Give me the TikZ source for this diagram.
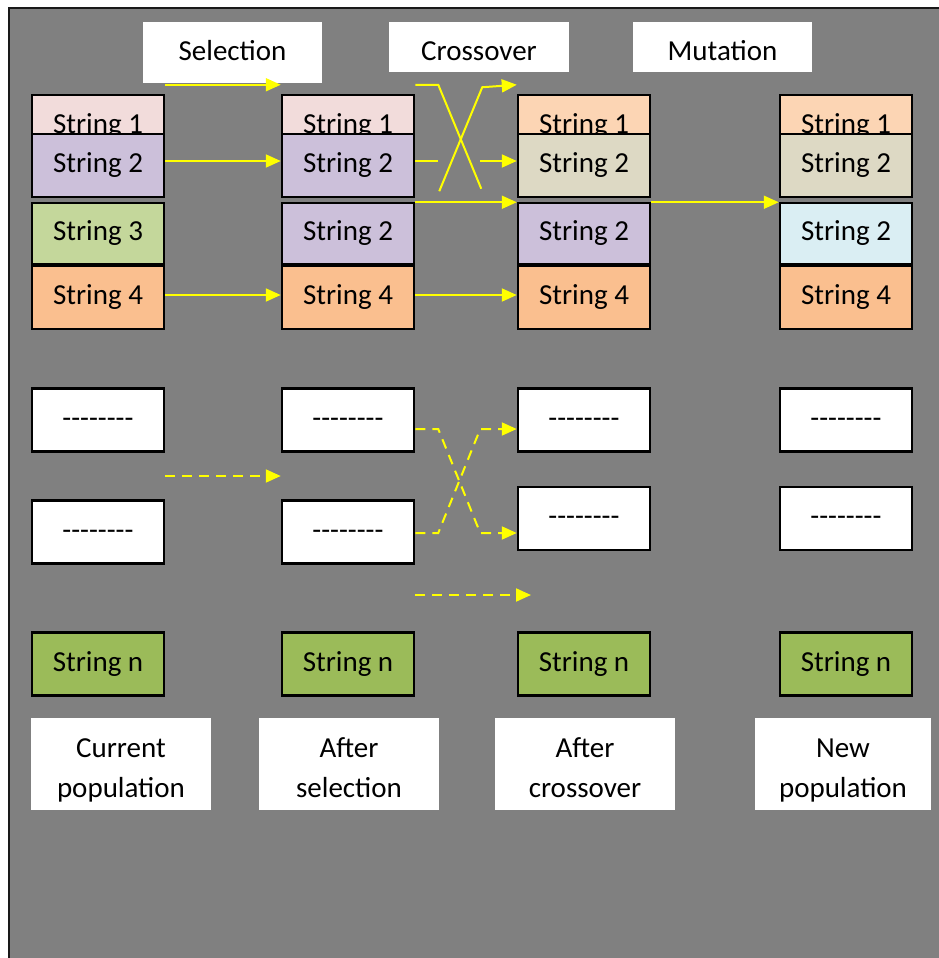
\documentclass[tikz,border=0pt]{standalone}
\usepackage{fontspec}
\setmainfont{Carlito}
\usetikzlibrary{arrows.meta,calc}

\definecolor{panel}{HTML}{808080}
\definecolor{rose}{HTML}{F2DCDB}
\definecolor{lilac}{HTML}{CCC0DA}
\definecolor{sage}{HTML}{C4D79B}
\definecolor{apricot}{HTML}{FABF8F}
\definecolor{peach}{HTML}{FCD5B4}
\definecolor{khaki}{HTML}{DDD9C4}
\definecolor{ice}{HTML}{DAEEF3}
\definecolor{olive}{HTML}{9BBB59}
\definecolor{flowyellow}{HTML}{FFFF00}

% a row of separate hyphens (kerns keep them from merging into dashes)
\newcommand\hyphrow{-\kern0pt-\kern0pt-\kern0pt-\kern0pt-\kern0pt-\kern0pt-\kern0pt-}
% two-line caption with fixed line positions
\newcommand\twolines[2]{\rule{0pt}{33pt}#1\\#2\rule[-7pt]{0pt}{7pt}}

\begin{document}
\begin{tikzpicture}[x=1pt,y=-1pt,
  cell/.style={draw=black, line width=2.5pt, minimum width=132pt, minimum height=63pt,
    inner sep=0pt, text height=20pt, text depth=6pt, font=\fontsize{29}{35}\selectfont},
  lowcell/.style={cell, minimum height=61pt},
  head/.style={fill=white, minimum width=179pt, inner sep=0pt, font=\fontsize{29}{35}\selectfont},
  caption/.style={fill=white, minimum width=180pt, minimum height=92pt, inner sep=0pt,
    align=center, font=\fontsize{29}{40}\selectfont},
  link/.style={draw=flowyellow, line width=2pt},
  flow/.style={link, -{Triangle[length=15pt,width=13pt]}},
  dsh/.style={dash pattern=on 10pt off 7pt}
]
\useasboundingbox (0,0) rectangle (939,958);
\fill[white] (0,0) rectangle (939,958);
\fill[panel] (9,8) rectangle (939,958);
\draw[line width=2.5pt, black!90] (9,958) -- (9,8) -- (939,8);

% step headings
\node[head, minimum height=61pt, text height=21pt, text depth=6pt] (hsel) at (232.5,52.5) {Selection};
\node[head, minimum width=180pt, minimum height=50pt, text height=26pt, text depth=0pt] (hcross) at (479,47) {Crossover};
\node[head, minimum height=50pt, text height=26pt, text depth=0pt] (hmut) at (722.5,47) {Mutation};

% current population
\node[cell, fill=rose]    (c1s1) at (98,126.5) {String 1};
\node[cell, fill=lilac]   (c1s2) at (98,165.5) {String 2};
\node[lowcell, fill=sage] (c1s3) at (98,233.5) {String 3};
\node[cell, fill=apricot] (c1s4) at (98,297.5) {String 4};
\node[cell, fill=white]   (c1d1) at (98,420) {\hyphrow};
\node[cell, fill=white]   (c1d2) at (98,532) {\hyphrow};
\node[cell, fill=olive]   (c1sn) at (98,664) {String n};

% after selection
\node[cell, fill=rose]     (c2s1) at (348,126.5) {String 1};
\node[cell, fill=lilac]    (c2s2) at (348,165.5) {String 2};
\node[lowcell, fill=lilac] (c2s3) at (348,233.5) {String 2};
\node[cell, fill=apricot]  (c2s4) at (348,297.5) {String 4};
\node[cell, fill=white]    (c2d1) at (348,420) {\hyphrow};
\node[cell, fill=white]    (c2d2) at (348,532) {\hyphrow};
\node[cell, fill=olive]    (c2sn) at (348,664) {String n};

% after crossover
\node[cell, fill=peach]    (c3s1) at (584,126.5) {String 1};
\node[cell, fill=khaki]    (c3s2) at (584,165.5) {String 2};
\node[lowcell, fill=lilac] (c3s3) at (584,233.5) {String 2};
\node[cell, fill=apricot]  (c3s4) at (584,297.5) {String 4};
\node[cell, fill=white]    (c3d1) at (584,420) {\hyphrow};
\node[cell, fill=white]    (c3d2) at (584,518.5) {\hyphrow};
\node[cell, fill=olive]    (c3sn) at (584,664) {String n};

% new population
\node[cell, fill=peach]   (c4s1) at (846,126.5) {String 1};
\node[cell, fill=khaki]   (c4s2) at (846,165.5) {String 2};
\node[lowcell, fill=ice]  (c4s3) at (846,233.5) {String 2};
\node[cell, fill=apricot] (c4s4) at (846,297.5) {String 4};
\node[cell, fill=white]   (c4d1) at (846,420) {\hyphrow};
\node[cell, fill=white]   (c4d2) at (846,518.5) {\hyphrow};
\node[cell, fill=olive]   (c4sn) at (846,664) {String n};

% column captions
\node[caption] (cap1) at (121,764) {\twolines{Current}{population}};
\node[caption] (cap2) at (349,764) {\twolines{After}{selection}};
\node[caption] (cap3) at (585,764) {\twolines{After}{crossover}};
\node[caption, minimum width=176pt] (cap4) at (843,764) {\twolines{New}{population}};

% selection
\draw[flow] ([yshift=9pt]c1s1.north east) -- ([yshift=9pt]c2s1.north west);
\draw[flow] ([yshift=4.5pt]c1s2.east) -- ([yshift=4.5pt]c2s2.west);
\draw[flow] ([yshift=2.5pt]c1s4.east) -- ([yshift=2.5pt]c2s4.west);
\draw[flow, dsh] ($(c1d1.east)!.5!(c1d2.east)$) -- ($(c2d1.west)!.5!(c2d2.west)$);

% crossover
\draw[link] ([yshift=9pt]c2s1.north east) -- ++(23,0) -- ++(43,104);
\draw[flow] ([xshift=24pt,yshift=7pt]c2s2.south east) -- ++(43,-104) -- ([yshift=9pt]c3s1.north west);
\draw[link] ([yshift=4.5pt]c2s2.east) -- ++(23,0);
\draw[flow] ([xshift=-37pt,yshift=4.5pt]c3s2.west) -- ([yshift=4.5pt]c3s2.west);
\draw[flow] ([yshift=-4pt]c2s2.south east) -- ([yshift=-4pt]c3s2.south west);
\draw[flow] ([yshift=2.5pt]c2s4.east) -- ([yshift=2.5pt]c3s4.west);
\draw[flow, dsh] ([yshift=-9pt]c2d1.east) -- ++(23,0) -- ++(42,104) -- ([yshift=-14.5pt]c3d2.west);
\draw[flow, dsh] ([yshift=-1pt]c2d2.east) -- ++(23,0) -- ++(42,-104) -- ([yshift=-9pt]c3d1.west);
\coordinate (tailend) at (531,595);
\draw[flow, dsh] ([yshift=3pt]$(c2d2.south east)!.5!(c2sn.north east)$) -- (tailend);

% mutation
\draw[flow] ([yshift=-4pt]c3s2.south east) -- ([yshift=-4pt]c4s2.south west);
\end{tikzpicture}
\end{document}
